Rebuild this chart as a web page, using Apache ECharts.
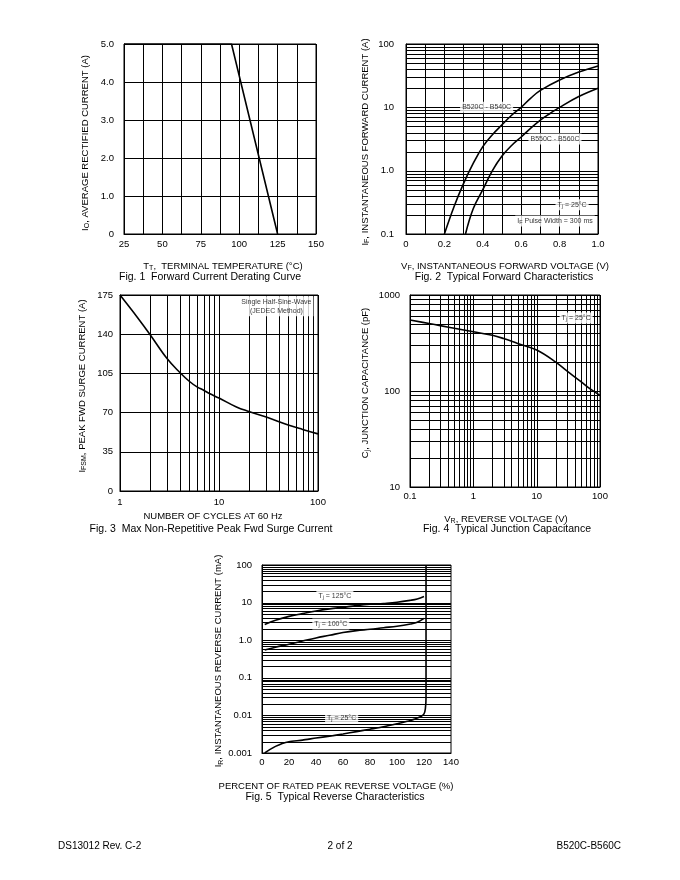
<!DOCTYPE html>
<html><head><meta charset="utf-8">
<script src="https://cdn.jsdelivr.net/npm/echarts@6/dist/echarts.min.js"></script>
<style>html,body{margin:0;padding:0;background:#fff}#c{width:680px;height:880px}</style>
</head><body><div id="c"></div>
<script>
// ---------- Fig 1: Forward Current Derating Curve ----------
const fig1Temp = [25, 95, 125];
const fig1Current = [5, 5, 0];
const fig1XTicks = [25, 50, 75, 100, 125, 150];
const fig1XLabels = ['25', '50', '75', '100', '125', '150'];
const fig1YTicks = [0, 1, 2, 3, 4, 5];
const fig1YLabels = ['0', '1.0', '2.0', '3.0', '4.0', '5.0'];

// ---------- Fig 2: Typical Forward Characteristics ----------
const fig2V_B520 = [0.2, 0.25, 0.3, 0.35, 0.4, 0.45, 0.5, 0.55, 0.6, 0.65, 0.7, 0.8, 0.9, 1.0];
const fig2I_B520 = [0.1, 0.27, 0.63, 1.3, 2.4, 3.7, 5.3, 7.5, 10, 14, 18.5, 27, 36, 45];
const fig2V_B550 = [0.31, 0.35, 0.4, 0.45, 0.5, 0.55, 0.6, 0.65, 0.7, 0.75, 0.8, 0.9, 1.0];
const fig2I_B550 = [0.1, 0.25, 0.5, 1.0, 1.7, 2.5, 3.4, 4.7, 6.3, 8, 10, 14.8, 20];
const fig2XTicks = [0, 0.2, 0.4, 0.6, 0.8, 1.0];
const fig2XLabels = ['0', '0.2', '0.4', '0.6', '0.8', '1.0'];
const fig2YTicks = [0.1, 1, 10, 100];
const fig2YLabels = ['0.1', '1.0', '10', '100'];
const fig2Notes = ['{n|B520C - B540C}', '{n|B550C - B560C}', '{n|T}{s|j}{n| = 25°C}', '{n|I}{s|F}{n| Pulse Width = 300 ms}'];
const fig2NoteX = [0.42, 0.776, 0.865, 0.776];
const fig2NoteY = [10, 3.16, 0.29, 0.16];

// ---------- Fig 3: Max Non-Repetitive Peak Fwd Surge Current ----------
const fig3Cycles = [1, 1.5, 2, 3, 4, 5, 6, 7, 8, 10, 15, 20, 30, 50, 70, 100];
const fig3Ifsm = [175, 155, 140, 118, 106, 98, 93, 90, 87, 83, 75, 71, 66, 59, 55, 51];
const fig3XTicks = [1, 10, 100];
const fig3XLabels = ['1', '10', '100'];
const fig3YTicks = [0, 35, 70, 105, 140, 175];
const fig3YLabels = ['0', '35', '70', '105', '140', '175'];
const fig3Notes = ['Single Half-Sine-Wave\n(JEDEC Method)'];
const fig3NoteX = [38];
const fig3NoteY = [165];

// ---------- Fig 4: Typical Junction Capacitance ----------
const fig4Vr = [0.1, 0.2, 0.3, 0.5, 1, 2, 3, 5, 10, 20, 30, 50, 70, 100];
const fig4Cj = [548, 505, 480, 450, 414, 380, 352, 313, 267, 200, 162, 125, 105, 90];
const fig4XTicks = [0.1, 1, 10, 100];
const fig4XLabels = ['0.1', '1', '10', '100'];
const fig4YTicks = [10, 100, 1000];
const fig4YLabels = ['10', '100', '1000'];
const fig4Notes = ['{n|T}{s|j}{n| = 25°C}'];
const fig4NoteX = [42];
const fig4NoteY = [575];

// ---------- Fig 5: Typical Reverse Characteristics ----------
const fig5Pct_125 = [2, 10, 20, 30, 40, 50, 60, 70, 80, 90, 100, 110, 115, 120];
const fig5Ir_125 = [2.6, 3.4, 4.3, 5.1, 6.0, 6.8, 7.5, 8.3, 9.0, 9.5, 10.2, 11.5, 12.5, 14.5];
const fig5Pct_100 = [2, 10, 20, 30, 40, 50, 60, 70, 80, 90, 100, 110, 115, 120];
const fig5Ir_100 = [0.55, 0.65, 0.78, 0.95, 1.15, 1.35, 1.6, 1.8, 1.95, 2.15, 2.35, 2.7, 3.0, 3.8];
const fig5Pct_25 = [2, 6, 10, 15, 20, 30, 40, 50, 60, 70, 80, 90, 100, 110, 115, 118, 120, 121, 121.5, 121.5];
const fig5Ir_25 = [0.001, 0.00125, 0.0015, 0.0018, 0.002, 0.0022, 0.0025, 0.0028, 0.0032, 0.0037, 0.0043, 0.005, 0.006, 0.0073, 0.0085, 0.0095, 0.011, 0.015, 0.03, 100];
const fig5XTicks = [0, 20, 40, 60, 80, 100, 120, 140];
const fig5XLabels = ['0', '20', '40', '60', '80', '100', '120', '140'];
const fig5YTicks = [0.001, 0.01, 0.1, 1, 10, 100];
const fig5YLabels = ['0.001', '0.01', '0.1', '1.0', '10', '100'];
const fig5Notes = ['{n|T}{s|j}{n| = 125°C}', '{n|T}{s|j}{n| = 100°C}', '{n|T}{s|j}{n| = 25°C}'];
const fig5NoteX = [54, 51, 59];
const fig5NoteY = [15, 2.7, 0.0085];

// ---------- texts ----------
const captions = ['Fig. 1  Forward Current Derating Curve', 'Fig. 2  Typical Forward Characteristics',
  'Fig. 3  Max Non-Repetitive Peak Fwd Surge Current', 'Fig. 4  Typical Junction Capacitance',
  'Fig. 5  Typical Reverse Characteristics'];
const footer = ['DS13012 Rev. C-2', '2 of 2', 'B520C-B560C'];

const FONT = "'Liberation Sans', Arial, Helvetica, sans-serif";
const richName = {
  n: { fontSize: 9.5, fontFamily: FONT, color: '#000' },
  s: { fontSize: 7, fontFamily: FONT, color: '#000', padding: [5, 0, 0, 0] }
};
const richNote = {
  n: { fontSize: 7, fontFamily: FONT, color: '#000' },
  s: { fontSize: 5.5, fontFamily: FONT, color: '#000', padding: [3, 0, 0, 0] }
};

function pairs(xs, ys) { return xs.map((x, i) => [x, ys[i]]); }
function lookup(ticks, labels) {
  return v => {
    for (let i = 0; i < ticks.length; i++) {
      if (Math.abs(v - ticks[i]) <= 1e-6 * Math.max(Math.abs(ticks[i]), 1e-3)) return labels[i];
    }
    return '';
  };
}
function logLines(min, max) {
  const v = [];
  for (let d = min; d < max * 0.999; d *= 10) {
    for (let k = 1; k < 10; k++) v.push(+(d * k).toPrecision(6));
  }
  v.push(max);
  return v;
}

const grids = [
  { left: 124, top: 44, width: 192, height: 190 },
  { left: 406, top: 44, width: 192, height: 190 },
  { left: 120, top: 295, width: 198, height: 196 },
  { left: 410, top: 295, width: 190, height: 192 },
  { left: 262, top: 565, width: 189, height: 188 }
].map(g => Object.assign(g, { show: true, borderColor: '#000', borderWidth: 1, backgroundColor: 'transparent', containLabel: false }));

function baseAxis(idx, extra) {
  return Object.assign({
    gridIndex: idx,
    nameLocation: 'middle',
    axisLine: { show: true, lineStyle: { color: '#000', width: 1 } },
    axisTick: { show: false },
    splitLine: { show: false },
    axisLabel: { color: '#000', fontSize: 9.5, fontFamily: FONT, showMinLabel: true, showMaxLabel: true },
    nameTextStyle: { rich: richName }
  }, extra);
}
function withLabel(ax, ticks, labels, margin) {
  ax.axisLabel = Object.assign({}, ax.axisLabel, { formatter: lookup(ticks, labels), margin: margin });
  return ax;
}
function nameStyle(padding) { return { rich: richName, padding: padding }; }
const splitOn = { show: true, lineStyle: { color: '#000', width: 1 } };

const xAxes = [
  withLabel(baseAxis(0, { type: 'value', min: 25, max: 150, interval: 12.5, splitLine: splitOn,
    name: '{n|T}{s|T}{n|,  TERMINAL TEMPERATURE (°C)}', nameGap: 26, nameTextStyle: nameStyle([0, 0, 0, 6]) }), fig1XTicks, fig1XLabels, 5),
  withLabel(baseAxis(1, { type: 'value', min: 0, max: 1, interval: 0.1, splitLine: splitOn,
    name: '{n|V}{s|F}{n|, INSTANTANEOUS FORWARD VOLTAGE (V)}', nameGap: 26, nameTextStyle: nameStyle([0, 0, 0, 6]) }), fig2XTicks, fig2XLabels, 5),
  withLabel(baseAxis(2, { type: 'log', logBase: 10, min: 1, max: 100,
    name: '{n|NUMBER OF CYCLES AT 60 Hz}', nameGap: 20, nameTextStyle: nameStyle([0, 12, 0, 0]) }), fig3XTicks, fig3XLabels, 6),
  withLabel(baseAxis(3, { type: 'log', logBase: 10, min: 0.1, max: 100,
    name: '{n|V}{s|R}{n|, REVERSE VOLTAGE (V)}', nameGap: 26, nameTextStyle: nameStyle([0, 0, 0, 2]) }), fig4XTicks, fig4XLabels, 4),
  withLabel(baseAxis(4, { type: 'value', min: 0, max: 140, interval: 20,
    name: '{n|PERCENT OF RATED PEAK REVERSE VOLTAGE (%)}', nameGap: 28, nameTextStyle: nameStyle([0, 41, 0, 0]) }), fig5XTicks, fig5XLabels, 4)
];
const yAxes = [
  withLabel(baseAxis(0, { type: 'value', min: 0, max: 5, interval: 1, splitLine: splitOn,
    name: '{n|I}{s|O}{n|, AVERAGE RECTIFIED CURRENT (A)}', nameGap: 33, nameTextStyle: nameStyle([0, 8, 0, 0]) }), fig1YTicks, fig1YLabels, 10),
  withLabel(baseAxis(1, { type: 'log', logBase: 10, min: 0.1, max: 100,
    name: '{n|I}{s|F}{n|, INSTANTANEOUS FORWARD CURRENT (A)}', nameGap: 35, nameTextStyle: nameStyle([0, 6, 0, 0]) }), fig2YTicks, fig2YLabels, 12),
  withLabel(baseAxis(2, { type: 'value', min: 0, max: 175, interval: 35, splitLine: splitOn,
    name: '{n|I}{s|FSM}{n|, PEAK FWD SURGE CURRENT (A)}', nameGap: 32, nameTextStyle: nameStyle([0, 0, 0, 14]) }), fig3YTicks, fig3YLabels, 7),
  withLabel(baseAxis(3, { type: 'log', logBase: 10, min: 10, max: 1000,
    name: '{n|C}{s|j}{n|, JUNCTION CAPACITANCE (pF)}', nameGap: 39, nameTextStyle: nameStyle([0, 0, 0, 16]) }), fig4YTicks, fig4YLabels, 10),
  withLabel(baseAxis(4, { type: 'log', logBase: 10, min: 0.001, max: 100,
    name: '{n|I}{s|R}{n|, INSTANTANEOUS REVERSE CURRENT (mA)}', nameGap: 36, nameTextStyle: nameStyle([0, 4, 0, 0]) }), fig5YTicks, fig5YLabels, 10)
];

function gridLineSeries(idx, hVals, vVals, xMin, yMin) {
  const data = hVals.map(v => [xMin, v, 0]).concat(vVals.map(v => [v, yMin, 1]));
  return {
    type: 'custom', xAxisIndex: idx, yAxisIndex: idx, z: 1, silent: true, clip: false,
    data: data,
    renderItem: function (params, api) {
      const cs = params.coordSys;
      const p = api.coord([api.value(0), api.value(1)]);
      if (api.value(2) === 0) {
        const y = Math.round(p[1]) + 0.5;
        return { type: 'line', shape: { x1: cs.x, y1: y, x2: cs.x + cs.width, y2: y }, style: { stroke: '#000', lineWidth: 1 } };
      }
      const x = Math.round(p[0]) + 0.5;
      return { type: 'line', shape: { x1: x, y1: cs.y, x2: x, y2: cs.y + cs.height }, style: { stroke: '#000', lineWidth: 1 } };
    }
  };
}
function curve(idx, xs, ys, smooth) {
  return {
    type: 'line', xAxisIndex: idx, yAxisIndex: idx, z: 3, silent: true,
    data: pairs(xs, ys), showSymbol: false, smooth: smooth,
    lineStyle: { color: '#000', width: 1.6 }, animation: false
  };
}
function notes(idx, xs, ys, texts, rich) {
  return {
    type: 'scatter', xAxisIndex: idx, yAxisIndex: idx, z: 6, silent: true, symbolSize: 0,
    data: xs.map((x, i) => ({ value: [x, ys[i]], label: { formatter: texts[i] } })),
    label: { show: true, position: 'inside', color: '#000', fontSize: 7, fontFamily: FONT, lineHeight: 9,
      align: 'center', backgroundColor: '#fff', padding: [1, 2], rich: rich },
    animation: false
  };
}

const series = [
  gridLineSeries(1, logLines(0.1, 100), [], 0, 0.1),
  gridLineSeries(2, [], logLines(1, 100), 1, 0),
  gridLineSeries(3, logLines(10, 1000), logLines(0.1, 100), 0.1, 10),
  gridLineSeries(4, logLines(0.001, 100), [], 0, 0.001),
  curve(0, fig1Temp, fig1Current, false),
  curve(1, fig2V_B520, fig2I_B520, 0.4),
  curve(1, fig2V_B550, fig2I_B550, 0.4),
  curve(2, fig3Cycles, fig3Ifsm, 0.4),
  curve(3, fig4Vr, fig4Cj, 0.4),
  curve(4, fig5Pct_125, fig5Ir_125, 0.4),
  curve(4, fig5Pct_100, fig5Ir_100, 0.4),
  curve(4, fig5Pct_25, fig5Ir_25, 0.2),
  notes(1, fig2NoteX, fig2NoteY, fig2Notes, richNote),
  notes(2, fig3NoteX, fig3NoteY, fig3Notes, richNote),
  notes(3, fig4NoteX, fig4NoteY, fig4Notes, richNote),
  notes(4, fig5NoteX, fig5NoteY, fig5Notes, richNote)
];

const capPos = [[210, 277], [504, 277], [211, 529], [507, 529], [335, 797]];
const graphic = captions.map((t, i) => ({
  type: 'text', x: capPos[i][0], y: capPos[i][1],
  style: { text: t, fill: '#000', font: '10.5px ' + FONT, textAlign: 'center', textVerticalAlign: 'middle', align: 'center', verticalAlign: 'middle' }
}));
const footPos = [[58, 846, 'left'], [340, 846, 'center'], [621, 846, 'right']];
footer.forEach((t, i) => graphic.push({
  type: 'text', x: footPos[i][0], y: footPos[i][1],
  style: { text: t, fill: '#000', font: '10px ' + FONT, textAlign: footPos[i][2], textVerticalAlign: 'middle', align: footPos[i][2], verticalAlign: 'middle' }
}));

const chart = echarts.init(document.getElementById('c'), null, { renderer: 'canvas' });
chart.setOption({
  animation: false,
  backgroundColor: '#fff',
  textStyle: { fontFamily: FONT },
  grid: grids,
  xAxis: xAxes,
  yAxis: yAxes,
  series: series,
  graphic: graphic
});
</script></body></html>
